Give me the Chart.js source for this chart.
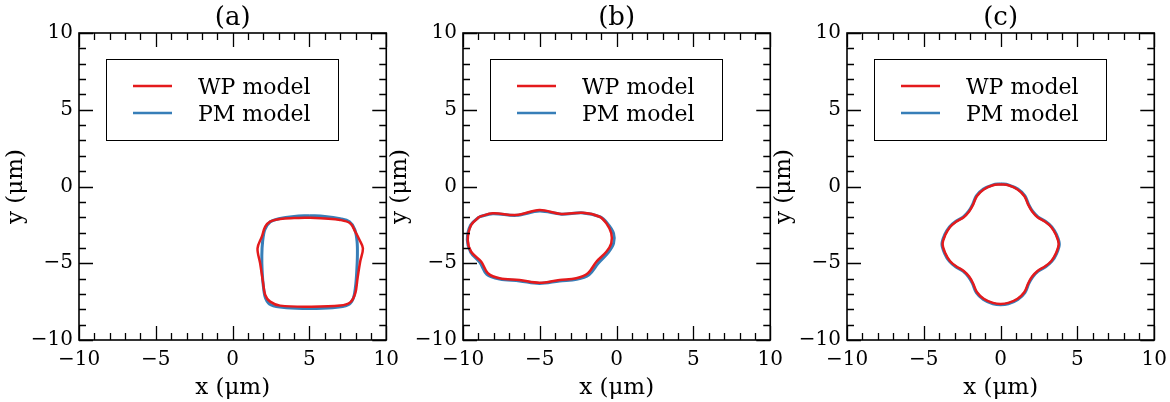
<!DOCTYPE html>
<html>
<head>
<meta charset="utf-8">
<script src="https://cdn.jsdelivr.net/npm/chart.js@4/dist/chart.umd.min.js"></script>
<style>
  body { margin: 0; background: #fff; overflow: hidden; }
  #wrap { position: relative; width: 1170px; height: 402px; overflow: hidden; }
  canvas { position: absolute; top: 0; }
</style>
</head>
<body>
<div id="wrap">
  <canvas id="panelA" width="407" height="402" style="left:0px"></canvas>
  <canvas id="panelB" width="407" height="402" style="left:384px"></canvas>
  <canvas id="panelC" width="407" height="402" style="left:768px"></canvas>
</div>
<script>
// ---------------- data (µm) ----------------
const AXIS_MIN = -10;
const AXIS_MAX = 10;
const TICK_STEP = 5;
const panelTitles = ["(a)", "(b)", "(c)"];
const seriesNames = ["WP model", "PM model"];

// (a) square-ish droplet centred near (5, -5)
const aWpX = [5.05, 6.0, 7.0, 7.65, 7.98, 8.26, 8.48, 8.3, 8.13, 7.98, 7.65, 7.0, 5.05, 3.09, 2.44, 2.12, 1.97, 1.79, 1.62, 1.9, 2.12, 2.44, 3.09, 4.0, 5.05];
const aWpY = [-2.03, -2.08, -2.18, -2.4, -2.94, -3.48, -4.03, -4.9, -5.98, -6.96, -7.55, -7.76, -7.83, -7.76, -7.5, -7.07, -6.2, -5.0, -4.03, -3.27, -2.62, -2.29, -2.12, -2.06, -2.03];
const aPmX = [5.0, 6.0, 7.0, 7.6, 7.95, 8.1, 8.12, 8.08, 8.0, 7.85, 7.5, 6.5, 5.0, 3.5, 2.5, 2.15, 2.0, 1.92, 1.9, 1.95, 2.1, 2.45, 3.0, 4.0, 5.0];
const aPmY = [-1.9, -1.95, -2.1, -2.3, -2.8, -3.6, -4.5, -5.5, -6.5, -7.3, -7.72, -7.9, -7.95, -7.9, -7.72, -7.3, -6.5, -5.5, -4.5, -3.6, -2.8, -2.3, -2.1, -1.95, -1.9];

// (b) elongated droplet centred near (-5, -4)
const bWpX = [-8.93, -8.06, -6.53, -5.02, -3.6, -2.2, -1.11, -0.67, -0.35, -0.35, -0.67, -1.32, -1.87, -2.63, -3.71, -5.02, -6.32, -7.62, -8.38, -8.81, -9.47, -9.69, -9.47, -8.93];
const bWpY = [-1.97, -1.75, -1.86, -1.53, -1.79, -1.71, -1.97, -2.4, -3.05, -3.7, -4.25, -4.9, -5.65, -5.98, -6.09, -6.27, -6.09, -5.98, -5.65, -4.9, -4.25, -3.49, -2.51, -1.97];
const bPmX = [-8.93, -8.06, -6.53, -5.02, -3.6, -2.2, -1.1, -0.6, -0.2, -0.2, -0.55, -1.2, -1.8, -2.6, -3.71, -5.02, -6.32, -7.62, -8.45, -8.9, -9.5, -9.72, -9.5, -8.93];
const bPmY = [-1.97, -1.77, -1.88, -1.6, -1.8, -1.72, -1.97, -2.4, -3.05, -3.7, -4.3, -5.0, -5.75, -6.05, -6.15, -6.32, -6.15, -6.03, -5.72, -4.95, -4.28, -3.49, -2.51, -1.97];

// (c) four-lobed droplet centred near (0, -3.75)
const cWpX = [0, 0.5, 1.1, 1.55, 1.8, 2.05, 2.4, 2.9, 3.3, 3.6, 3.78, 3.6, 3.3, 2.9, 2.4, 2.05, 1.8, 1.55, 1.1, 0.5, 0, -0.5, -1.1, -1.55, -1.8, -2.05, -2.4, -2.9, -3.3, -3.6, -3.78, -3.6, -3.3, -2.9, -2.4, -2.05, -1.8, -1.55, -1.1, -0.5, 0];
const cWpY = [0.15, 0.08, -0.19, -0.63, -1.2, -1.63, -2.0, -2.3, -2.65, -3.15, -3.75, -4.35, -4.85, -5.2, -5.5, -5.87, -6.3, -6.87, -7.31, -7.58, -7.65, -7.58, -7.31, -6.87, -6.3, -5.87, -5.5, -5.2, -4.85, -4.35, -3.75, -3.15, -2.65, -2.3, -2.0, -1.63, -1.2, -0.63, -0.19, 0.08, 0.15];
const cPmX = [0, 0.5, 1.12, 1.58, 1.83, 2.08, 2.43, 2.93, 3.33, 3.64, 3.82, 3.64, 3.33, 2.93, 2.43, 2.08, 1.83, 1.58, 1.12, 0.5, 0, -0.5, -1.12, -1.58, -1.83, -2.08, -2.43, -2.93, -3.33, -3.64, -3.82, -3.64, -3.33, -2.93, -2.43, -2.08, -1.83, -1.58, -1.12, -0.5, 0];
const cPmY = [0.18, 0.11, -0.17, -0.61, -1.18, -1.61, -1.98, -2.28, -2.63, -3.14, -3.75, -4.37, -4.88, -5.23, -5.53, -5.9, -6.33, -6.91, -7.36, -7.64, -7.71, -7.64, -7.36, -6.91, -6.33, -5.9, -5.53, -5.23, -4.88, -4.37, -3.75, -3.14, -2.63, -2.28, -1.98, -1.61, -1.18, -0.61, -0.17, 0.11, 0.18];

// ---------------- styling ----------------
const RED = "#e41a1c";
const BLUE = "#377eb8";
const SERIF = "'DejaVu Serif', serif";

function toPoints(xs, ys) {
    return xs.map((x, i) => ({ x: x, y: ys[i] }));
}

function minusSign(v) {
    return String(v).replace("-", "\u2212");
}

// frame, inward ticks on all four sides and the boxed legend
const frameTicks = {
    id: "frameTicks",
    afterDraw(chart) {
        const { ctx, chartArea: a, scales: { x, y } } = chart;
        ctx.save();
        ctx.strokeStyle = "#000";
        ctx.lineWidth = 1.3;
        ctx.beginPath();
        for (let v = AXIS_MIN; v <= AXIS_MAX; v++) {
            const len = v % TICK_STEP === 0 ? 14 : 7;
            const px = Math.round(x.getPixelForValue(v)) + 0.5;
            const py = Math.round(y.getPixelForValue(v)) + 0.5;
            ctx.moveTo(px, a.bottom); ctx.lineTo(px, a.bottom - len);
            ctx.moveTo(px, a.top);    ctx.lineTo(px, a.top + len);
            ctx.moveTo(a.left, py);   ctx.lineTo(a.left + len, py);
            ctx.moveTo(a.right, py);  ctx.lineTo(a.right - len, py);
        }
        ctx.stroke();
        ctx.lineWidth = 1.6;
        ctx.strokeRect(a.left, a.top, a.right - a.left, a.bottom - a.top);

        // legend box
        const lx = a.left + 27, ly = a.top + 26;
        ctx.lineWidth = 1;
        ctx.strokeRect(lx + 0.5, ly + 0.5, 232, 81);
        ctx.font = "22px " + SERIF;
        ctx.fillStyle = "#000";
        ctx.textBaseline = "alphabetic";
        chart.data.datasets.forEach((ds, i) => {
            const yy = ly + 27 + i * 27;
            ctx.strokeStyle = ds.borderColor;
            ctx.lineWidth = 2.5;
            ctx.beginPath();
            ctx.moveTo(a.left + 54, yy);
            ctx.lineTo(a.left + 93, yy);
            ctx.stroke();
            ctx.fillText(ds.label, a.left + 119, yy + 7.5);
        });
        ctx.restore();
    }
};

function crearPanel(id, titulo, wpX, wpY, pmX, pmY) {
    const ctx = document.getElementById(id).getContext("2d");
    return new Chart(ctx, {
        type: "scatter",
        data: {
            datasets: [
                {
                    label: seriesNames[0],
                    data: toPoints(wpX, wpY),
                    showLine: true,
                    borderColor: RED,
                    borderWidth: 2.5,
                    pointRadius: 0,
                    tension: 0.35,
                    fill: false
                },
                {
                    label: seriesNames[1],
                    data: toPoints(pmX, pmY),
                    showLine: true,
                    borderColor: BLUE,
                    borderWidth: 3,
                    pointRadius: 0,
                    tension: 0.35,
                    fill: false
                }
            ]
        },
        options: {
            responsive: false,
            animation: false,
            devicePixelRatio: 1,
            layout: { padding: { left: 0, right: 0, top: 0, bottom: 0 } },
            plugins: {
                legend: { display: false },
                tooltip: { enabled: false },
                title: {
                    display: true,
                    text: titulo,
                    fullSize: false,
                    color: "#000",
                    font: { family: SERIF, size: 26, weight: "normal", lineHeight: 1 },
                    padding: { top: 5, bottom: 2 }
                }
            },
            scales: {
                x: {
                    type: "linear",
                    min: AXIS_MIN, max: AXIS_MAX,
                    grid: { display: false, drawTicks: false },
                    border: { display: false },
                    ticks: {
                        stepSize: TICK_STEP,
                        color: "#000",
                        padding: 8,
                        maxRotation: 0,
                        font: { family: SERIF, size: 20 },
                        callback: v => minusSign(v)
                    },
                    title: {
                        display: true,
                        text: "x (\u03bcm)",
                        color: "#000",
                        font: { family: SERIF, size: 23 },
                        padding: { top: 0, bottom: 0 }
                    },
                    afterFit: s => { s.height = 62; }
                },
                y: {
                    type: "linear",
                    min: AXIS_MIN, max: AXIS_MAX,
                    grid: { display: false, drawTicks: false },
                    border: { display: false },
                    ticks: {
                        stepSize: TICK_STEP,
                        color: "#000",
                        padding: 6,
                        font: { family: SERIF, size: 20 },
                        callback: v => minusSign(v)
                    },
                    title: {
                        display: true,
                        text: "y (\u03bcm)",
                        color: "#000",
                        font: { family: SERIF, size: 23 },
                        padding: { top: 2, bottom: 0 }
                    },
                    afterFit: s => { s.width = 79; }
                }
            }
        },
        plugins: [frameTicks]
    });
}

crearPanel("panelA", panelTitles[0], aWpX, aWpY, aPmX, aPmY);
crearPanel("panelB", panelTitles[1], bWpX, bWpY, bPmX, bPmY);
crearPanel("panelC", panelTitles[2], cWpX, cWpY, cPmX, cPmY);
</script>
</body>
</html>
